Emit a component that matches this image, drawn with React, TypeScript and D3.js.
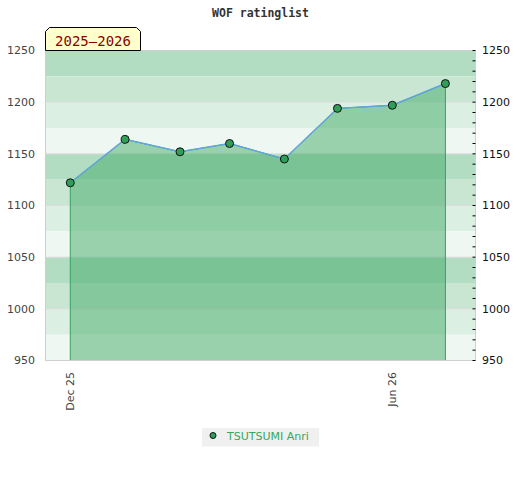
import React from "react";
import * as d3 from "d3";

// monthly ratings, Dec 2025 .. Jul 2026
const months = ["2025-12-01", "2026-01-01", "2026-02-01", "2026-03-01", "2026-04-01", "2026-05-01", "2026-06-01", "2026-07-01"];
const ratings = [1122, 1164, 1152, 1160, 1145, 1194, 1197, 1218];
const yTicks = [950, 1000, 1050, 1100, 1150, 1200, 1250];
const xTicks = ["2025-12-01", "2026-06-01"];
const playerName = "TSUTSUMI Anri";
const seasonLabel = "2025–2026";
const title = "WOF ratinglist";

const W = 520;
const H = 480;
const left = 45.5;
const right = 475.5;
const top = 50.5;
const bottom = 360.5;

const bandColors = ["#b3ddc3", "#c9e6d3", "#dcefe3", "#eff7f2"];

const parse = (s: string) => new Date(s + "T00:00:00Z");

const App = () => {
  const x = d3
    .scaleUtc()
    .domain([parse("2025-11-17"), parse("2026-07-18")])
    .range([left, right]);
  const y = d3.scaleLinear().domain([950, 1250]).range([bottom, top]);

  const pts = months.map((m, i) => ({ d: parse(m), v: ratings[i] }));

  const area = d3
    .area<{ d: Date; v: number }>()
    .x((p) => x(p.d))
    .y0(bottom)
    .y1((p) => y(p.v));
  const line = d3
    .line<{ d: Date; v: number }>()
    .x((p) => x(p.d))
    .y((p) => y(p.v));

  const bands = d3.range(1250, 950, -25);
  const minor = d3.range(950, 1251, 10);
  const fmt = d3.utcFormat("%b %y");

  const bx0 = 45.5, bx1 = 140.5, by0 = 27.5, by1 = 50.5, c = 4;
  const labelPath = `M${bx0},${by1} L${bx0},${by0 + c} L${bx0 + c},${by0} L${bx1 - c},${by0} L${bx1},${by0 + c} L${bx1},${by1} Z`;

  return (
    <svg width={W} height={H} style={{ position: "absolute", left: 0, top: 0 }} fontFamily="DejaVu Sans">
      <rect width={W} height={H} fill="#fff" />
      <text x={260.5} y={17} textAnchor="middle" fontFamily="DejaVu Sans Mono" fontWeight="bold" fontSize={11.5} fill="#333">
        {title}
      </text>

      {bands.map((b, i) => (
        <rect key={b} x={left} y={y(b)} width={right - left} height={y(b - 25) - y(b)} fill={bandColors[i % 4]} />
      ))}
      {yTicks.map((t) => (
        <line key={t} x1={left} x2={right} y1={y(t)} y2={y(t)} stroke="#dcdcdc" strokeWidth={1} />
      ))}

      <path d={area(pts) ?? ""} fill="rgba(58,168,98,0.48)" stroke="#35a35a" strokeWidth={1} />
      <path d={line(pts) ?? ""} fill="none" stroke="#62a6da" strokeWidth={1.5} />
      {pts.map((p, i) => (
        <circle key={i} cx={x(p.d)} cy={y(p.v)} r={4} fill="#2f9e58" stroke="#111" strokeWidth={1} />
      ))}

      <rect x={left} y={top} width={right - left} height={bottom - top} fill="none" stroke="#cfcfcf" />

      {minor.map((t) => (
        <line key={t} x1={right - 3} x2={right} y1={y(t)} y2={y(t)} stroke="#000" />
      ))}

      {yTicks.map((t) => (
        <text key={"l" + t} x={35} y={y(t)} dy="0.35em" textAnchor="end" fontSize={11} fill="#444">
          {t}
        </text>
      ))}
      {yTicks.map((t) => (
        <text key={"r" + t} x={482} y={y(t)} dy="0.35em" textAnchor="start" fontSize={11} fill="#111">
          {t}
        </text>
      ))}

      {xTicks.map((t) => (
        <text key={t} transform={`translate(${x(parse(t)) + 4},372) rotate(-90)`} textAnchor="end" fontSize={11} fill="#444">
          {fmt(parse(t))}
        </text>
      ))}

      <path d={labelPath} fill="#ffffcc" stroke="#000" strokeWidth={1} />
      <text x={(bx0 + bx1) / 2} y={45.5} textAnchor="middle" fontFamily="DejaVu Sans Mono" fontSize={14} fill="#8b0000">
        {seasonLabel}
      </text>

      <rect x={202} y={428} width={117} height={18.5} fill="#f0f0f0" />
      <circle cx={213} cy={435.5} r={3} fill="#2f9e58" stroke="#111" strokeWidth={1} />
      <text x={227} y={439.5} fontSize={11} fill="#35a860">
        {playerName}
      </text>
    </svg>
  );
};

export default App;
